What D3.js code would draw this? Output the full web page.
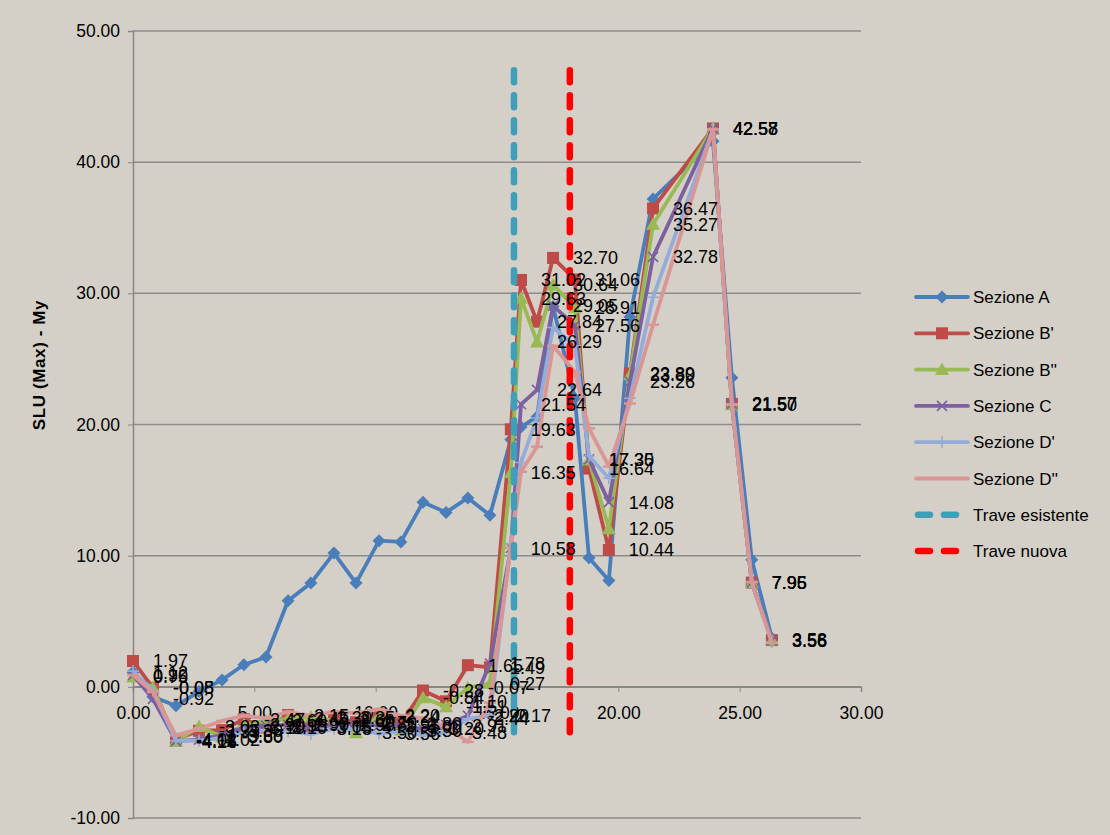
<!DOCTYPE html>
<html><head><meta charset="utf-8">
<script src="https://cdn.jsdelivr.net/npm/d3@7"></script>
<style>
body{margin:0;background:#d4d0c8;}
svg{display:block;}
text{font-family:"Liberation Sans",Arial,sans-serif;fill:#000;}
</style></head><body>
<svg id="chart" width="1110" height="835"></svg>
<script>
// ---- data ----
const xValues = [0.00, 0.82, 1.77, 2.72, 3.67, 4.57, 5.48, 6.39, 7.33, 8.28, 9.19, 10.14, 11.04, 11.95, 12.90, 13.80, 14.71, 15.57, 15.99, 16.65, 17.31, 18.21, 18.79, 19.61, 20.48, 21.43, 23.90, 24.68, 25.50, 26.33];
const seriesNames = ["Sezione A", "Sezione B'", "Sezione B''", "Sezione C", "Sezione D'", "Sezione D''"];
const sezioneA   = [1.12, -0.75, -1.45, -0.36, 0.53, 1.68, 2.27, 6.56, 7.91, 10.20, 7.91, 11.14, 11.05, 14.07, 13.30, 14.40, 13.08, 18.85, 19.80, 20.60, 29.00, 22.00, 9.85, 8.10, 28.20, 37.20, 41.60, 23.56, 9.69, 3.70];
const sezioneB1  = [1.97, -0.08, -4.02, -3.35, -3.30, -2.47, -3.10, -2.15, -3.05, -2.35, -2.70, -2.24, -2.80, -0.28, -1.10, 1.65, 1.49, 19.63, 31.02, 27.84, 32.70, 31.06, 16.64, 10.44, 23.89, 36.47, 42.57, 21.57, 7.95, 3.56];
const sezioneB2  = [0.75, -0.05, -4.16, -3.03, -3.80, -2.90, -2.60, -2.45, -2.30, -2.60, -3.50, -2.20, -3.30, -0.84, -1.51, -0.07, 0.27, 16.35, 29.63, 26.29, 30.64, 28.91, 17.30, 12.05, 23.80, 35.27, 42.58, 21.50, 7.96, 3.58];
const sezioneC   = [0.90, -0.92, -4.14, -4.02, -3.68, -3.10, -2.95, -2.90, -3.15, -2.90, -2.85, -2.95, -3.00, -3.20, -2.91, -2.20, 1.78, 10.58, 21.54, 22.64, 29.05, 27.56, 17.35, 14.08, 23.26, 32.78, 42.58, 21.57, 7.95, 3.56];
const sezioneD1  = [1.20, -0.30, -4.11, -4.10, -3.90, -3.50, -3.30, -3.40, -3.60, -3.20, -3.25, -3.56, -3.40, -3.70, -3.48, -2.44, -2.17, 10.90, 17.10, 20.50, 27.40, 26.00, 17.60, 15.90, 22.00, 29.70, 42.50, 21.57, 7.95, 3.40];
const sezioneD2  = [0.90, -0.40, -3.70, -3.20, -2.60, -2.20, -2.40, -1.90, -2.20, -1.90, -2.00, -1.70, -2.20, -2.40, -3.00, -4.20, -1.20, 10.60, 16.40, 18.30, 26.00, 24.00, 19.70, 16.80, 21.60, 27.60, 42.50, 21.50, 8.00, 3.36];
const labeledA  = [0];
const labeledB1 = d3.range(0, 30);
const labeledB2 = d3.range(0, 30);
const labeledC  = d3.range(0, 30);
const labeledD1 = [2, 11, 14, 15, 16];
const labeledD2 = [];
const traveNames = ["Trave esistente", "Trave nuova"];
const traveEsistenteX = [15.70, 15.70];
const traveEsistenteY = [47.0, -3.7];
const traveNuovaX = [18.00, 18.00];
const traveNuovaY = [47.0, -3.7];
const xTicks = [0, 5, 10, 15, 20, 25, 30];
const yTicks = [-10, 0, 10, 20, 30, 40, 50];
const yTitle = "SLU (Max) - My";

// ---- styles ----
const colors = ["#4a7ebb", "#be4b48", "#98b954", "#7d60a0", "#93acd8", "#d99694"];
const markers = ["diamond", "square", "triangle", "x", "plus", "dash"];
const traveColors = ["#3f9fb8", "#ff0000"];
const fmt = v => (+v).toFixed(2);

const svg = d3.select("#chart");
const x = d3.scaleLinear().domain([0, 30]).range([133, 861]);
const y = d3.scaleLinear().domain([-10, 50]).range([818, 31]);

// gridlines
svg.append("g").selectAll("line").data(yTicks).join("line")
  .attr("x1", x(0)).attr("x2", x(30))
  .attr("y1", d => y(d)).attr("y2", d => y(d))
  .attr("stroke", "#8e8c88").attr("stroke-width", 1.5);

// y axis
const yAxis = d3.axisLeft(y).tickValues(yTicks).tickFormat(fmt).tickSize(5).tickPadding(8);
const gy = svg.append("g").attr("transform", `translate(${x(0)},0)`).call(yAxis);
gy.select(".domain").attr("stroke", "#868686").attr("stroke-width", 1.5);
gy.selectAll(".tick line").attr("stroke", "#868686");
gy.selectAll("text").style("font-size", "17.5px").style("font-family", "Liberation Sans, Arial, sans-serif");

// x axis at y=0
const xAxis = d3.axisBottom(x).tickValues(xTicks).tickFormat(fmt).tickSize(5).tickPadding(15);
const gx = svg.append("g").attr("transform", `translate(0,${y(0)})`).call(xAxis);
gx.select(".domain").attr("stroke", "#868686").attr("stroke-width", 1.5);
gx.selectAll(".tick line").attr("stroke", "#868686");
gx.selectAll("text").style("font-size", "17.5px").style("font-family", "Liberation Sans, Arial, sans-serif");

// y title
svg.append("text")
  .attr("transform", `translate(45,365) rotate(-90)`)
  .attr("text-anchor", "middle")
  .style("font-size", "17px").style("font-weight", "bold").style("letter-spacing", "0.6px")
  .text(yTitle);

function drawMarker(g, type, color) {
  if (type === "diamond") g.append("path").attr("d", "M0,-6.5L6.5,0L0,6.5L-6.5,0Z").attr("fill", color);
  else if (type === "square") g.append("rect").attr("x", -6).attr("y", -6).attr("width", 12).attr("height", 12).attr("fill", color);
  else if (type === "triangle") g.append("path").attr("d", "M0,-7L7,5.5L-7,5.5Z").attr("fill", color);
  else if (type === "x") { g.append("path").attr("d", "M-5,-5L5,5M-5,5L5,-5").attr("stroke", color).attr("stroke-width", 1.6); }
  else if (type === "plus") { g.append("path").attr("d", "M-6,0L6,0M0,-6L0,6").attr("stroke", color).attr("stroke-width", 1.6); }
  else if (type === "dash") { g.append("path").attr("d", "M-6,0L6,0").attr("stroke", color).attr("stroke-width", 2.5); }
}

const allSeries = [sezioneA, sezioneB1, sezioneB2, sezioneC, sezioneD1, sezioneD2];
const allLabeled = [labeledA, labeledB1, labeledB2, labeledC, labeledD1, labeledD2];
const line = d3.line().x(d => x(d[0])).y(d => y(d[1]));

allSeries.forEach((vals, si) => {
  const pts = vals.map((v, i) => [xValues[i], v]);
  const g = svg.append("g");
  g.append("path").datum(pts).attr("d", line).attr("fill", "none")
    .attr("stroke", colors[si]).attr("stroke-width", 3.8).attr("stroke-linejoin", "round");
  pts.forEach(p => {
    const mg = g.append("g").attr("transform", `translate(${x(p[0])},${y(p[1])})`);
    drawMarker(mg, markers[si], colors[si]);
  });
});

// trave lines
[[traveEsistenteX, traveEsistenteY], [traveNuovaX, traveNuovaY]].forEach((t, ti) => {
  const pts = t[0].map((v, i) => [v, t[1][i]]);
  svg.append("path").datum(pts).attr("d", line).attr("fill", "none")
    .attr("stroke", traveColors[ti]).attr("stroke-width", 6.5)
    .attr("stroke-dasharray", "12,13").attr("stroke-linecap", "round");
});

// data labels
const lg = svg.append("g");
allSeries.forEach((vals, si) => {
  allLabeled[si].forEach(i => {
    lg.append("text").attr("x", x(xValues[i]) + 20).attr("y", y(vals[i]) + 6.5)
      .style("font-size", "18px").text(fmt(vals[i]));
  });
});

// legend
const legendNames = seriesNames.concat(traveNames);
const leg = svg.append("g");
legendNames.forEach((name, i) => {
  const ly = 297 + i * 36.3;
  const g = leg.append("g").attr("transform", `translate(0,${ly})`);
  if (i < 6) {
    g.append("line").attr("x1", 916).attr("x2", 968).attr("y1", 0).attr("y2", 0)
      .attr("stroke", colors[i]).attr("stroke-width", 3.8).attr("stroke-linecap", "round");
    drawMarker(g.append("g").attr("transform", "translate(942,0)"), markers[i], colors[i]);
  } else {
    g.append("line").attr("x1", 918).attr("x2", 960).attr("y1", 0).attr("y2", 0)
      .attr("stroke", traveColors[i - 6]).attr("stroke-width", 6.5)
      .attr("stroke-dasharray", "12,14").attr("stroke-linecap", "round");
  }
  g.append("text").attr("x", 973).attr("y", 6).style("font-size", "17px").text(name);
});
</script>
</body></html>
